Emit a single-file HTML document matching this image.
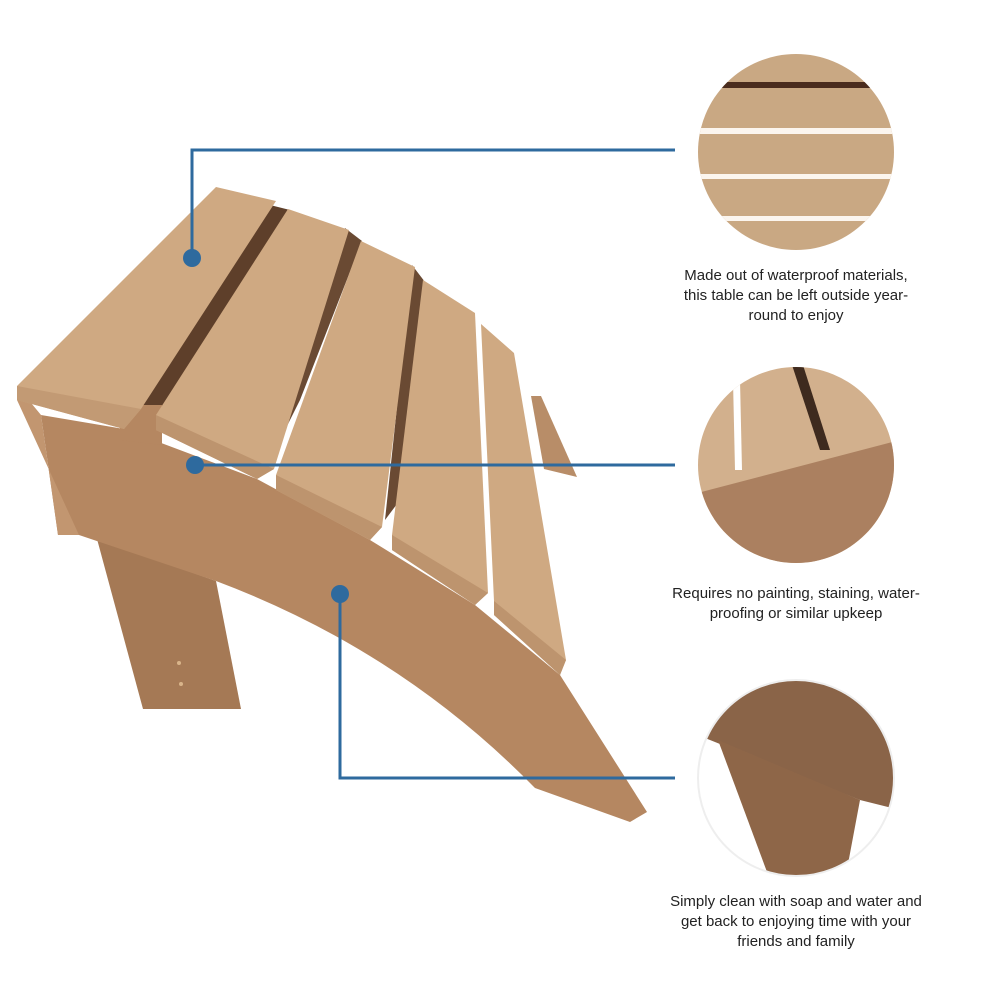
<!DOCTYPE html>
<html><head><meta charset="utf-8"><style>
body{margin:0;background:#fff;width:1000px;height:1000px;overflow:hidden;position:relative;font-family:"Liberation Sans",sans-serif}
.t{position:absolute;width:300px;left:646px;text-align:center;font-size:15px;line-height:20px;color:#222}
</style></head><body>
<svg width="1000" height="1000" style="position:absolute;left:0;top:0">
<defs>
<clipPath id="c1"><circle cx="796" cy="152" r="98"/></clipPath>
<clipPath id="c2"><circle cx="796" cy="465" r="98"/></clipPath>
<clipPath id="c3"><circle cx="796" cy="778" r="98"/></clipPath>
</defs>
<!-- back leg -->
<polygon points="531,396 541,396 577,477 544,469" fill="#b88d68"/>
<!-- dark under-gaps -->
<polygon points="270,205 290,210 160,415 135,415" fill="#5e3f2a"/>
<polygon points="345,228 362,241 300,400 280,440 265,470" fill="#6a4a33"/>
<polygon points="412,265 425,282 400,500 385,520" fill="#6a4a33"/>
<!-- leg -->
<polygon points="97,539 216,581 241,709 143,709" fill="#a57955"/>
<circle cx="179" cy="663" r="2" fill="#d9b48a"/><circle cx="181" cy="684" r="2" fill="#d9b48a"/>
<!-- front board -->
<path d="M41,415 L124,429 L257,479 L370,540 L475,605 L560,675 L647,812 L630,822 L535,788 Q400,650 216,581 L79,535 L58,535 Z" fill="#b58761"/>
<polygon points="120,405 162,405 162,445 120,440" fill="#b58761"/>
<polygon points="17,386 41,415 58,535 79,535 17,400" fill="#c29670"/>
<!-- slats -->
<polygon points="216,187 276,201 141,409 124,429 17,400 17,386" fill="#cfa982"/>
<polygon points="17,386 141,409 124,429 17,400" fill="#c29a74"/>
<polygon points="288,209 349,230 274,469 257,479 156,430 156,415" fill="#cfa982"/>
<polygon points="156,415 274,469 257,479 156,430" fill="#bd946e"/>
<polygon points="361,241 415,267 382,527 370,540 276,490 276,475" fill="#cfa982"/>
<polygon points="276,475 382,527 370,540 276,490" fill="#bd946e"/>
<polygon points="423,280 475,313 488,593 475,605 392,550 392,535" fill="#cfa982"/>
<polygon points="392,535 488,593 475,605 392,550" fill="#bd946e"/>
<polygon points="481,324 514,353 566,660 560,675 494,615 494,601" fill="#cfa982"/>
<polygon points="494,601 566,660 560,675 494,615" fill="#bd946e"/>
<!-- callouts -->
<g stroke="#2e6a9e" stroke-width="3" fill="none">
<polyline points="192,258 192,150 675,150"/>
<polyline points="195,465 675,465"/>
<polyline points="340,594 340,778 675,778"/>
</g>
<g fill="#2e6a9e"><circle cx="192" cy="258" r="9"/><circle cx="195" cy="465" r="9"/><circle cx="340" cy="594" r="9"/></g>
<!-- circle 1 -->
<g clip-path="url(#c1)">
<rect x="690" y="50" width="210" height="210" fill="#c9a883"/>
<rect x="690" y="82" width="210" height="6" fill="#4a2c1e"/>
<rect x="690" y="128" width="210" height="6" fill="#fbf5ee"/>
<rect x="690" y="174" width="210" height="5" fill="#fbf5ee"/>
<rect x="690" y="216" width="210" height="5" fill="#fbf5ee"/>
</g>
<!-- circle 2 -->
<g clip-path="url(#c2)">
<rect x="690" y="360" width="210" height="210" fill="#d2b08d"/>
<polygon points="733,380 740,380 742,470 735,470" fill="#fff"/>
<polygon points="792,365 803,365 830,450 820,450" fill="#3e2a1e"/>
<polygon points="690,495 900,440 900,570 690,570" fill="#ab8060"/>
</g>
<!-- circle 3 -->
<g clip-path="url(#c3)">
<rect x="690" y="670" width="210" height="220" fill="#fff"/>
<polygon points="690,670 900,670 900,810 860,800 705,738 690,740" fill="#8a6448"/>
<polygon points="718,740 860,800 845,880 770,880" fill="#8e6648"/>
</g>
<circle cx="796" cy="778" r="98" fill="none" stroke="#eee" stroke-width="2"/>
</svg>
<div class="t" style="top:266px">Made out of waterproof materials,<br>this table can be left outside year-<br>round to enjoy</div>
<div class="t" style="top:584px">Requires no painting, staining, water-<br>proofing or similar upkeep</div>
<div class="t" style="top:892px">Simply clean with soap and water and<br>get back to enjoying time with your<br>friends and family</div>
</body></html>
